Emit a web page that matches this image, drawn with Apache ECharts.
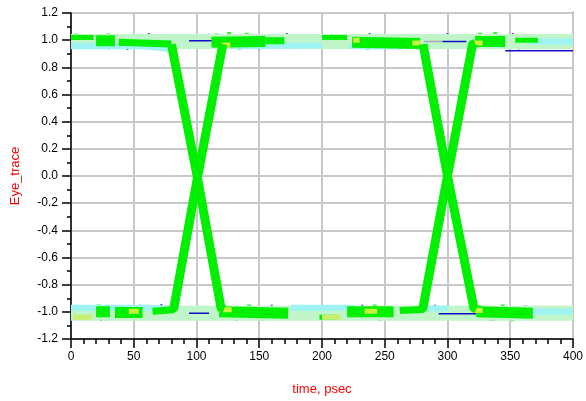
<!DOCTYPE html>
<html>
<head>
<meta charset="utf-8">
<title>Eye diagram</title>
<script src="https://cdn.jsdelivr.net/npm/echarts@6/dist/echarts.min.js"></script>
<style>
  html, body { margin: 0; padding: 0; background: #fff; }
  #chart { width: 586px; height: 401px; }
</style>
</head>
<body>
<div id="chart"></div>
<script>
// Axis ticks
const xTicks = [0, 50, 100, 150, 200, 250, 300, 350, 400];
const yTicks = [-1.2, -1.0, -0.8, -0.6, -0.4, -0.2, 0.0, 0.2, 0.4, 0.6, 0.8, 1.0, 1.2];

// Rail envelopes (logic high / logic low), time in psec
const upperEnvelope = [[0, 0.99], [400, 0.99]];
const lowerEnvelope = [[0, -1.01], [400, -1.01]];

const upperCyan = [
  [[0, 0.955], [55, 0.955], [70, 0.945], [78, 0.93]],
  [[128, 0.955], [200, 0.96]],
  [[222, 0.955], [282, 0.955]],
  [[335, 0.965], [345, 0.97]],
  [[365, 0.99], [400, 0.99]]
];
const lowerCyan = [
  [[0, -0.97], [60, -0.97], [78, -0.975]],
  [[175, -0.97], [225, -0.97]],
  [[285, -0.975], [300, -0.975]],
  [[365, -1.0], [400, -1.0]]
];

// Trace bundles sitting on the rails: dense, medium and sparse groups
const denseBundles = [
  [[20, 0.995], [35, 0.995]],
  [[112, 0.985], [155, 0.99]],
  [[224, 0.985], [278, 0.975]],
  [[322, 0.99], [346, 0.99]],
  [[20, -1.0], [31, -1.0]],
  [[35, -1.005], [57, -1.005]],
  [[118, -1.0], [173, -1.01]],
  [[220, -1.0], [257, -1.0]],
  [[323, -1.0], [368, -1.01]]
];
const mediumBundles = [
  [[38, 0.985], [80, 0.972]],
  [[155, 0.995], [170, 0.995]],
  [[65, -0.995], [82, -0.985]],
  [[262, -0.99], [281, -0.982]]
];
const sparseBundles = [
  [[0, 1.02], [18, 1.02]],
  [[200, 1.02], [220, 1.02]],
  [[354, 1.0], [372, 1.0]],
  [[198, -1.04], [212, -1.04]]
];
const greenSpecks = [
  [4, 1.035], [12, 1.005], [22, 0.955], [30, 1.035], [44, 0.955], [52, 1.0], [60, 0.955], [70, 1.0],
  [116, 1.035], [126, 1.045], [134, 0.945], [140, 1.04], [150, 0.95], [162, 1.02], [168, 0.97],
  [228, 1.01], [236, 0.945], [244, 1.015], [252, 0.95], [260, 1.01], [268, 0.95],
  [326, 1.04], [332, 0.95], [338, 1.045], [344, 0.955], [358, 1.015], [366, 0.985],
  [22, -0.96], [28, -1.05], [38, -0.97], [48, -1.045], [54, -0.97], [70, -1.02],
  [122, -0.965], [132, -1.045], [142, -0.96], [152, -1.05], [164, -0.975], [170, -1.045],
  [224, -0.965], [232, -1.045], [242, -0.96], [252, -1.045], [266, -1.02], [274, -0.97],
  [326, -0.965], [334, -1.05], [344, -0.96], [352, -1.055], [360, -0.975], [366, -1.045]
];

// Hot spots where many traces overlap
const hotSpots = [
  [[120, 0.965], [127, 0.965]], [[225, 1.0], [230, 1.0]], [[272, 0.98], [279, 0.98]], [[321, 0.98], [328, 0.98]],
  [[46, -0.995], [54, -0.995]], [[120, -0.985], [128, -0.985]], [[234, -0.995], [244, -0.995]], [[320, -0.99], [328, -0.99]]
];
const paleHotSpots = [
  [[2, -1.04], [17, -1.04]], [[200, -1.04], [215, -1.04]]
];

// Sparse outlier traces
const blueTraces = [
  [[94, 0.995], [116, 0.995]], [[296, 0.99], [315, 0.99]], [[346, 0.923], [400, 0.923]],
  [[94, -1.01], [110, -1.01]], [[293, -1.015], [323, -1.015]]
];
const grayTraces = [
  [[281, 0.99], [296, 0.99]]
];
const blueSpecks = [
  [30, 0.94], [45, 0.935], [62, 1.045], [110, 1.04], [150, 0.94], [172, 1.045], [238, 1.045], [262, 0.94], [300, 1.045], [352, 1.045], [357, 0.94],
  [24, -1.06], [53, -1.055], [55, -0.955], [72, -0.95], [132, -1.06], [160, -0.955], [232, -0.955], [246, -1.06], [290, -0.955], [336, -1.06], [362, -0.96]
];

// Bit transitions (falling and rising edges) and their crossing points
const fallingEdges = [
  [[80, 0.97], [100.5, 0.0], [119.5, -0.97], [122, -0.98]],
  [[280.5, 0.97], [300, 0.0], [321, -0.97], [323, -0.98]]
];
const risingEdges = [
  [[80, -0.98], [82, -0.97], [101, 0.0], [121, 0.97]],
  [[278.5, -0.98], [280.5, -0.97], [300, 0.0], [320, 0.97], [322, 0.975]]
];
const crossings = [[101, 0.0], [300, 0.0]];

const GREEN = '#00f000';

function lineSeries(segments, color, width) {
  return segments.map(function (seg) {
    return {
      type: 'line',
      data: seg,
      showSymbol: false,
      symbol: 'none',
      silent: true,
      clip: true,
      lineStyle: { color: color, width: width, join: 'round' }
    };
  });
}

function speckSeries(points, color, size) {
  return {
    type: 'scatter',
    data: points,
    symbol: 'rect',
    symbolSize: size,
    silent: true,
    itemStyle: { color: color }
  };
}

const series = [].concat(
  lineSeries([upperEnvelope, lowerEnvelope], '#bff5c8', 15),
  lineSeries(upperCyan, '#9ef3f3', 6),
  lineSeries(lowerCyan, '#9ef3f3', 6),
  lineSeries(grayTraces, '#a8a8b8', 1.5),
  lineSeries(blueTraces, '#1010c8', 1.5),
  lineSeries(sparseBundles, GREEN, 5),
  lineSeries(mediumBundles, GREEN, 7),
  lineSeries(denseBundles, GREEN, 11),
  [speckSeries(greenSpecks, GREEN, 4)],
  lineSeries(paleHotSpots, '#c8f070', 5),
  lineSeries(hotSpots, '#c8f040', 5),
  lineSeries(fallingEdges, GREEN, 9),
  lineSeries(risingEdges, GREEN, 9),
  [speckSeries(blueSpecks, '#1010c8', 2), {
    type: 'scatter',
    data: crossings,
    symbol: 'circle',
    symbolSize: 9,
    silent: true,
    itemStyle: { color: '#c8f040' }
  }]
);

const axisFont = 'Liberation Sans, Arial, sans-serif';

const chart = echarts.init(document.getElementById('chart'), null, { renderer: 'canvas' });
chart.setOption({
  animation: false,
  backgroundColor: '#ffffff',
  grid: {
    left: 71, right: 8, top: 13, bottom: 59,
    show: true,
    borderColor: '#000',
    borderWidth: 1.5,
    backgroundColor: 'transparent'
  },
  xAxis: {
    type: 'value',
    min: xTicks[0],
    max: xTicks[xTicks.length - 1],
    interval: xTicks[1] - xTicks[0],
    name: 'time, psec',
    nameLocation: 'middle',
    nameGap: 44,
    nameTextStyle: { color: '#ff0000', fontSize: 13, fontFamily: axisFont },
    axisLine: { onZero: false, lineStyle: { color: '#000', width: 1.5 } },
    axisTick: { length: 9, lineStyle: { color: '#000', width: 1.5 } },
    minorTick: { show: true, splitNumber: 5, length: 5, lineStyle: { color: '#000', width: 1.5 } },
    splitLine: { show: true, lineStyle: { color: '#c8c8c8', width: 2 } },
    axisLabel: { color: '#000', fontSize: 12, margin: 12, fontFamily: axisFont }
  },
  yAxis: {
    type: 'value',
    min: yTicks[0],
    max: yTicks[yTicks.length - 1],
    interval: 0.2,
    name: 'Eye_trace',
    nameLocation: 'middle',
    nameGap: 49,
    nameTextStyle: { color: '#ff0000', fontSize: 13, fontFamily: axisFont },
    axisLine: { onZero: false, lineStyle: { color: '#000', width: 1.5 } },
    axisTick: { length: 9, lineStyle: { color: '#000', width: 1.5 } },
    minorTick: { show: true, splitNumber: 2, length: 4, lineStyle: { color: '#000', width: 1.5 } },
    splitLine: { show: true, lineStyle: { color: '#c8c8c8', width: 2 } },
    axisLabel: {
      color: '#000', fontSize: 12, margin: 13, fontFamily: axisFont,
      formatter: function (v) { return Math.abs(v) < 1e-9 ? '0.0' : v.toFixed(1); }
    }
  },
  series: series
});
</script>
</body>
</html>
